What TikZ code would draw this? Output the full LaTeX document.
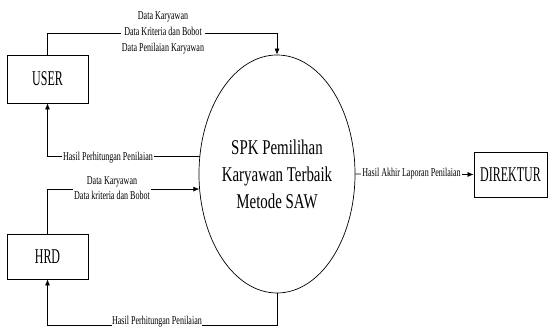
\documentclass[tikz,border=0pt]{standalone}
\usepackage{fontspec}
\setmainfont{Liberation Serif}
\newfontfamily\lblfont{Liberation Serif}[FakeStretch=0.67]
\newfontfamily\boxfont{Liberation Serif}[FakeStretch=0.57]
\newfontfamily\procfont{Liberation Serif}[FakeStretch=0.71]
\usetikzlibrary{arrows.meta,shapes.geometric}
\begin{document}
\begin{tikzpicture}[x=1pt,y=1pt,
  entity/.style={draw,line width=0.8pt,minimum width=81pt,minimum height=48pt,inner sep=0pt,
    font=\boxfont\fontsize{21}{21}\selectfont},
  flow/.style={line width=0.7pt},
  arr/.style={-{Latex[length=6pt,width=5pt]}},
  lbl/.style={font=\lblfont\fontsize{12}{16}\selectfont,fill=white,inner sep=1pt,align=center}]
\useasboundingbox (0,0) rectangle (552,328);
\node[entity] (user) at (47.5,249) {USER};
\node[entity,minimum height=45pt] (hrd) at (47.5,71.5) {HRD};
\node[entity,minimum width=73pt,minimum height=45pt] (dir) at (510.5,153.5) {DIREKTUR};
\node[ellipse,draw,line width=0.7pt,minimum width=144pt,minimum height=238pt,inner sep=0pt,
  align=center,font=\procfont\fontsize{21}{27}\selectfont] (spk) at (277,154)
  {SPK Pemilihan\\Karyawan Terbaik\\Metode SAW};
\coordinate (t1) at (47.5,295);
\coordinate (b1) at (47.5,2.5);
% user -> spk
\draw[flow,arr] (user.north) -- (user.north |- t1) -- (spk.north |- t1) -- (spk.north);
\node[lbl] (l1) at (163,295) {Data Karyawan\\Data Kriteria dan Bobot\\Data Penilaian Karyawan};
% spk -> user
\draw[flow,arr] (spk.167.4) -| (user.south);
\node[lbl] (l2) at (108,170) {Hasil Perhitungan Penilaian};
% hrd -> spk
\draw[flow,arr] (hrd.north) |- (spk.191.1);
\node[lbl,font=\lblfont\fontsize{12}{15}\selectfont] (l3) at (112,140) {Data Karyawan\\Data kriteria dan Bobot};
% spk -> hrd
\draw[flow,arr] (spk.south) -- (spk.south |- b1) -- (b1) -- (hrd.south);
\node[lbl,inner sep=0.5pt] (l4) at (157,6) {Hasil Perhitungan Penilaian};
% spk -> direktur
\draw[flow,arr] (spk.east) -- (dir.west);
\node[lbl] (l5) at (411.5,154) {Hasil Akhir Laporan Penilaian};
\end{tikzpicture}
\end{document}
